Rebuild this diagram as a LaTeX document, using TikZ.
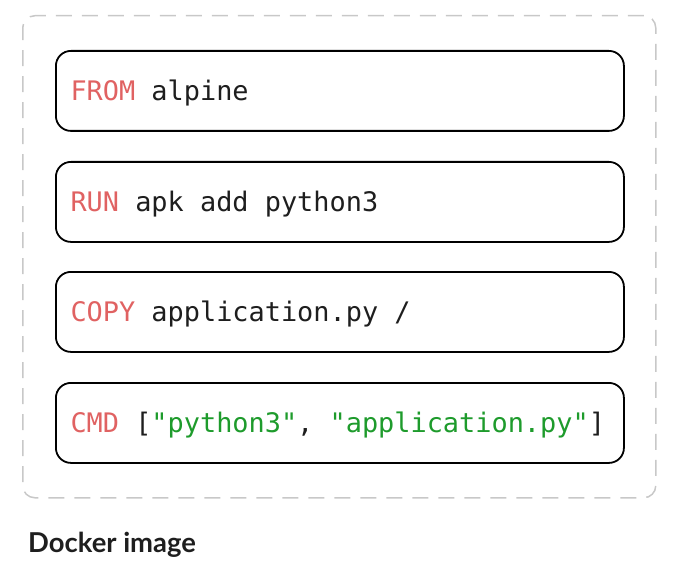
\documentclass[tikz,border=0pt]{standalone}
\usepackage{fontspec}
\setmonofont{DejaVu Sans Mono}
\setsansfont{Lato}
\definecolor{kw}{HTML}{E06262}
\definecolor{str}{HTML}{1E9B2C}
\definecolor{txt}{HTML}{1E1E1E}
\definecolor{dash}{HTML}{C8C8C8}
\begin{document}
\begin{tikzpicture}[x=1bp,y=-1bp,
  layer/.style={draw=black,line width=1.8bp,rounded corners=15bp,minimum width=568bp,minimum height=80bp,anchor=north west,inner sep=0pt},
  code/.style={font=\ttfamily\fontsize{27}{32}\selectfont,text=txt,anchor=west}]
\useasboundingbox (0,0) rectangle (674,570);
\node[draw=dash,line width=1.5bp,dash pattern=on 16bp off 10bp,rounded corners=12bp,minimum width=633bp,minimum height=482bp,anchor=north west,inner sep=0pt] (img) at (22,15) {};
\node[layer] (l1) at (55,50) {};
\node[layer] (l2) at (55,161) {};
\node[layer] (l3) at (55,271) {};
\node[layer] (l4) at (55,382) {};
\node[code] (t1) at ([xshift=12bp,yshift=-2bp]l1.west) {\textcolor{kw}{FROM} alpine};
\node[code] (t2) at ([xshift=12bp,yshift=-2bp]l2.west) {\textcolor{kw}{RUN} apk add python3};
\node[code] (t3) at ([xshift=12bp,yshift=-2bp]l3.west) {\textcolor{kw}{COPY} application.py /};
\node[code] (t4) at ([xshift=12bp,yshift=-2bp]l4.west) {\textcolor{kw}{CMD} [\textcolor{str}{"python3"}, \textcolor{str}{"application.py"}]};
\node[font=\sffamily\bfseries\fontsize{27.5}{32}\selectfont,text=txt,anchor=base west,inner sep=0pt] (cap) at (28,552) {Docker image};
\end{tikzpicture}
\end{document}
